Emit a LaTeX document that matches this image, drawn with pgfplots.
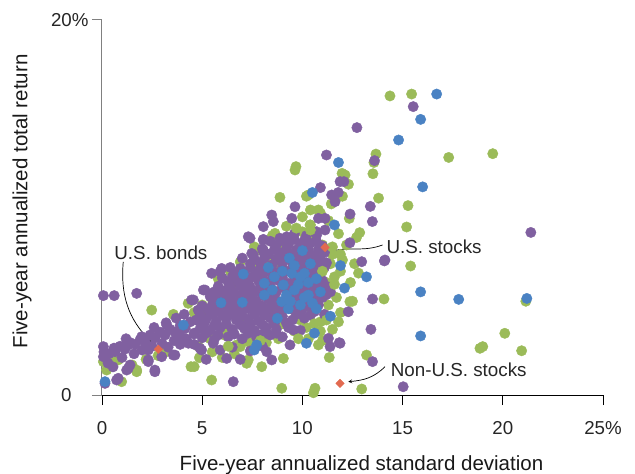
\documentclass[border=0pt]{standalone}
\usepackage{fontspec}
\setmainfont{Liberation Sans}
\usepackage{pgfplots}
\pgfplotsset{compat=1.18}
\definecolor{cgreen}{RGB}{155,187,89}
\definecolor{cpurple}{RGB}{128,96,160}
\definecolor{cblue}{RGB}{74,130,195}
\definecolor{corange}{RGB}{226,106,80}
\definecolor{caxis}{RGB}{128,128,128}
\begin{document}
\begin{tikzpicture}
\begin{axis}[
  name=main,
  scale only axis, width=501pt, height=375pt,
  xmin=0, xmax=25, ymin=0, ymax=20,
  axis x line=bottom, axis y line=left,
  x axis line style={-, black, line width=0.8pt},
  y axis line style={-, caxis, line width=1pt},
  xtick={0,5,10,15,20,25}, xticklabels={0,5,10,15,20,25\%},
  ytick={20}, yticklabels={20\%},
  extra y ticks={0}, extra y tick labels={0},
  extra y tick style={tick style={black, line width=0.8pt}, yticklabel style={xshift=-17pt}},
  tick align=outside, major tick length=10pt,
  xtick style={black, line width=0.8pt},
  ytick style={caxis, line width=1pt},
  xticklabel style={yshift=-13pt},
  clip=false,
  /pgf/number format/assume math mode=true,
  tick label style={font=\fontsize{18.7}{22}\selectfont, text=black!85},
  xlabel={Five-year annualized standard deviation},
  ylabel={Five-year annualized total return},
  label style={font=\fontsize{20.5}{24}\selectfont, text=black!90},
  xlabel style={at={(axis description cs:0.5,0)}, anchor=center, yshift=-70pt, xshift=9pt},
  ylabel style={at={(axis description cs:0,0.5)}, anchor=center, yshift=80pt, xshift=6pt},
]
% green
\addplot[only marks, mark=*, mark size=5.2pt, color=cgreen] coordinates {
(14.37,15.95)(15.45,16.05)(13.67,12.85)(13.57,12.4)(13.52,11.8)(17.3,12.67)(19.5,12.87)(11.98,11.82)
(13.8,10.5)(15.27,10.1)(15.2,8.96)(12.86,8.66)(10.2,10.6)(10.4,9.87)(10.4,9.07)(12.3,11.24)(12.0,10.6)
(12.34,9.42)(11.44,10.19)(15.4,6.88)(14.07,5.12)(20.1,3.29)(19.0,2.58)(18.86,2.49)(20.94,2.36)(13.2,2.13)
(11.34,2.0)(12.96,0.32)(10.63,0.36)(10.55,0.12)(12.37,4.98)(2.48,4.53)(3.56,4.3)(4.86,1.99)(4.6,1.51)
(4.44,1.51)(5.47,0.8)(7.22,1.69)(7.3,1.87)(7.97,1.51)(8.97,0.36)(0.98,0.71)(1.73,1.24)(0.07,1.78)(0.56,2.04)
(6.55,4.44)(6.22,3.47)(6.9,2.58)(9.05,1.95)(0.81,1.87)(0.23,1.33)(1.73,1.33)(4.3,4.89)(4.97,4.36)(10.8,2.67)
(7.3,2.84)(6.72,2.67)(8.88,10.54)(10.3,10.67)(9.63,12.0)(10.38,9.07)(8.63,8.62)(7.88,7.73)(10.8,9.87)
(9.68,12.18)(12.13,11.73)(11.8,10.58)(21.15,5.0)
(5.5,2.3)(6.0,2.0)(6.6,2.2)(7.5,2.6)(8.2,2.8)(8.8,3.0)(9.6,3.4)(10.2,3.6)(10.9,3.9)(11.5,3.5)(11.0,2.9)
(10.5,4.5)(11.3,4.8)(11.7,5.2)(11.9,4.4)(11.2,6.0)(11.6,6.3)(12.0,7.2)(11.5,7.5)(11.0,8.0)(10.6,8.4)
(10.0,8.7)(9.4,8.3)(8.8,7.9)(8.3,7.2)(7.8,6.8)(7.2,6.3)(6.6,5.9)(6.0,5.4)(5.5,5.1)(5.0,4.8)(4.6,4.4)
(3.2,2.3)(2.8,2.1)(2.2,1.9)(1.5,1.6)(6.5,4.6)(7.0,3.9)(7.6,3.4)(8.4,4.4)(9.0,3.8)(9.9,4.0)(10.3,3.0)
(12.4,6.0)(12.6,7.0)(12.2,8.0)(11.8,8.6)(12.5,5.0)(10.0,9.5)(9.2,9.0)(8.5,8.5)(7.6,7.9)(5.8,6.2)(6.4,6.6)
(6.9,7.1)(7.3,5.2)(8.9,6.8)(9.8,7.4)(10.7,7.0)(11.4,7.0)(11.9,6.6)(12.8,6.5)(12.7,8.4)(11.3,9.3)(10.9,9.7)
(6.1,3.2)(5.4,3.0)(4.8,2.6)
};
% purple
\addplot[only marks, mark=*, mark size=5.2pt, color=cpurple] coordinates {
(15.53,15.38)(12.72,14.26)(11.2,12.8)(13.6,12.5)(10.9,11.06)(12.07,11.38)(11.88,11.38)(11.46,10.67)
(11.79,10.8)(11.63,10.31)(13.39,10.06)(12.38,9.65)(13.49,9.25)(10.8,9.42)(11.13,9.42)(11.13,8.8)(10.71,8.53)
(21.4,8.67)(14.09,7.15)(13.5,5.12)(13.42,3.5)(13.5,1.78)(15.03,0.44)(12.96,7.11)(12.37,8.12)(12.29,4.44)
(11.84,2.79)(11.38,2.58)(11.3,3.02)(11.88,2.76)(0.07,5.3)(0.61,5.3)(1.73,5.42)(2.64,1.24)(0.73,0.8)
(6.55,0.71)(0.07,2.58)(0.07,2.04)(0.15,0.62)(1.4,1.6)(1.23,1.33)(2.31,1.87)(3.56,2.13)(4.89,2.49)(5.55,2.76)
(6.22,1.95)(8.22,2.31)(8.47,1.87)(9.38,2.67)(9.55,3.47)(7.55,7.47)(8.05,7.73)(8.05,8.27)(7.3,8.44)(5.47,6.49)
(5.89,6.58)(5.06,5.6)(4.56,5.07)(0.65,2.31)(1.31,2.67)(1.98,3.11)(2.31,2.4)(3.23,3.73)(3.64,2.13)(2.98,2.04)
(2.31,1.78)(2.64,1.33)(1.31,1.42)(0.81,0.89)(4.97,2.4)(4.31,2.76)(3.89,3.2)(4.47,5.07)(4.8,4.53)(5.14,5.6)
(9.63,10.04)(9.47,9.42)(8.47,9.6)(8.55,9.25)(8.05,8.98)(7.39,8.36)(8.05,8.3)(8.88,8.36)(9.22,8.44)(7.47,7.55)
(8.05,7.65)(10.71,8.71)(5.97,6.75)(14.12,7.2)
(0.1,2.3)(0.35,2.2)(0.6,2.5)(0.9,2.6)(1.15,2.45)(1.4,2.8)(1.65,2.7)(1.9,2.95)(2.15,2.85)(2.4,3.2)(2.65,3.05)
(2.9,3.35)(3.15,3.2)(3.4,3.5)(3.65,3.35)(3.9,3.7)(4.15,3.55)(4.4,3.9)(0.3,1.7)(0.55,1.5)(1.0,2.0)(1.6,2.2)
(2.0,2.4)(2.5,2.6)(3.0,2.75)(3.3,2.55)(3.6,2.9)(3.9,2.7)(4.2,3.0)(4.6,3.3)(3.2,3.85)(3.7,4.1)(4.1,4.3)
(2.6,3.6)(1.2,3.0)(4.6,2.7)
(5.0,3.05)(5.6,2.95)(6.3,3.1)(7.0,3.0)(7.7,3.1)(8.4,3.2)(9.0,3.1)
(4.9,3.55)(5.4,3.45)(5.9,3.6)(6.5,3.5)(7.1,3.55)(7.6,3.45)(8.2,3.6)(8.7,3.5)(9.3,3.6)(9.9,3.45)
(4.7,4.0)(5.2,4.05)(5.7,3.95)(6.2,4.1)(6.7,4.0)(7.3,4.05)(7.8,3.95)(8.4,4.1)(9.0,4.2)(9.5,4.0)(10.1,4.1)
(5.3,4.55)(5.8,4.5)(6.3,4.6)(6.8,4.5)(7.3,4.6)(7.8,4.5)(8.3,4.6)(8.9,4.5)(9.4,4.6)(10.0,4.55)(10.6,4.45)(11.1,4.3)
(5.7,5.0)(6.2,5.05)(6.7,4.95)(7.2,5.05)(7.7,5.0)(8.3,5.1)(8.8,5.0)(9.3,5.05)(9.9,5.0)(10.5,5.1)(11.0,5.2)
(5.6,5.5)(6.1,5.55)(6.6,5.45)(7.1,5.55)(7.6,5.5)(8.1,5.6)(8.7,5.5)(9.2,5.6)(9.8,5.5)(10.4,5.55)(10.9,5.65)(11.4,5.5)
(6.3,6.0)(6.8,6.05)(7.3,5.95)(7.8,6.1)(8.3,6.0)(8.8,6.1)(9.3,5.95)(9.9,6.05)(10.5,6.0)(11.0,6.1)
(6.6,6.5)(7.1,6.55)(7.7,6.45)(8.2,6.6)(8.7,6.5)(9.2,6.6)(9.8,6.5)(10.4,6.55)(10.9,6.45)
(7.4,7.0)(7.9,7.05)(8.5,6.95)(9.0,7.05)(9.5,7.0)(10.1,7.1)(10.7,7.0)(11.2,7.05)
(8.3,7.5)(8.9,7.55)(9.5,7.5)(10.1,7.55)(10.6,7.45)(11.1,7.6)
(8.7,8.0)(9.3,8.05)(9.9,8.0)(10.4,8.1)(11.0,7.95)
(9.6,8.6)(10.2,8.5)
(5.9,2.4)(6.5,2.55)(7.4,2.35)(8.0,2.6)(6.9,1.9)(5.2,1.9)
(4.6,3.25)(5.2,3.3)(5.8,3.2)(6.6,3.25)(7.3,3.3)(8.0,3.25)(8.7,3.3)
(5.1,3.8)(5.6,3.7)(6.2,3.8)(6.9,3.75)(7.4,3.8)(8.0,3.75)(8.6,3.8)(9.2,3.85)
(4.9,4.25)(5.5,4.3)(6.0,4.25)(6.5,4.3)(7.0,4.25)(7.6,4.3)(8.1,4.25)(8.7,4.3)(9.7,4.3)(10.4,4.25)
(5.0,4.75)(5.5,4.8)(6.0,4.75)(6.5,4.8)(7.0,4.7)(7.5,4.8)(8.0,4.75)(8.6,4.8)(9.1,4.8)(9.7,4.75)(10.3,4.75)(10.8,4.8)
(5.4,5.25)(5.9,5.3)(6.4,5.25)(6.9,5.3)(7.4,5.25)(8.0,5.3)(8.5,5.25)(9.6,5.3)(10.2,5.25)(10.7,5.3)(11.2,5.35)
(5.8,5.8)(6.4,5.75)(6.9,5.8)(7.4,5.75)(7.9,5.8)(8.4,5.8)(9.0,5.75)(9.5,5.8)(10.1,5.75)(10.7,5.8)(11.2,5.8)
(6.0,6.25)(6.5,6.3)(7.0,6.25)(7.5,6.3)(8.0,6.25)(8.5,6.3)(9.0,6.25)(9.6,6.3)(10.2,6.25)(10.8,6.3)
(6.4,6.8)(6.9,6.75)(7.4,6.8)(7.9,6.75)(8.4,6.8)(9.0,6.8)(9.5,6.75)(10.0,6.8)(10.6,6.75)(11.1,6.8)
(7.0,7.3)(7.6,7.25)(8.1,7.3)(8.7,7.25)(9.2,7.3)(9.8,7.25)(10.4,7.3)(10.9,7.25)
(8.0,7.8)(8.6,7.75)(9.2,7.8)(9.7,7.75)(10.3,7.8)(10.8,7.75)
(8.4,8.2)(9.0,8.25)(9.6,8.3)(10.1,8.25)(10.7,8.2)
};
% green drawn over part of the cluster
\addplot[only marks, mark=*, mark size=5.2pt, color=cgreen] coordinates {
(11.2,4.0)(11.6,5.9)(11.0,6.6)(11.5,7.9)(10.6,3.8)(11.8,3.9)(9.7,8.9)(10.4,8.8)(11.9,7.5)
(6.3,2.6)(7.9,2.9)(9.8,3.0)(10.9,3.4)
};
% blue
\addplot[only marks, mark=*, mark size=5.2pt, color=cblue] coordinates {
(0.15,0.71)(4.06,3.73)(5.94,4.92)(7.0,4.94)(7.05,6.45)(7.72,2.67)(7.6,2.4)(8.1,5.96)(8.1,5.33)(8.75,4.09)
(9.05,5.87)(8.97,4.98)(9.2,5.33)(9.35,7.3)(9.47,6.49)(9.6,5.6)(10.0,7.7)(10.1,6.49)(10.3,5.33)(10.7,6.2)
(10.2,2.76)(10.6,3.3)(10.5,10.8)(11.4,4.2)(11.6,9.07)(11.9,6.9)(12.1,5.7)(11.8,12.4)(13.2,6.3)(14.8,13.6)
(15.9,14.7)(16.7,16.05)(16.0,11.1)(15.9,5.5)(17.8,5.1)(21.2,5.15)(15.9,3.15)(9.8,5.9)(10.3,6.0)(9.9,4.8)
(10.5,4.9)(8.6,6.3)(9.6,6.9)(10.9,5.5)(8.5,5.6)(9.3,4.6)
(9.0,6.6)(10.1,5.2)(9.4,5.0)(10.7,4.6)(8.3,6.8)(9.9,6.3)(10.4,7.0)
};
% indexes
\addplot[only marks, mark=square*, mark size=3pt, color=corange, mark options={rotate=45}] coordinates {
(2.81,2.44)(11.13,7.87)(11.88,0.62)
};
\node[font=\fontsize{18.8}{22}\selectfont, text=black!85] at (axis cs:2.94,7.57) {U.S. bonds};
\node[font=\fontsize{18.8}{22}\selectfont, text=black!85] at (axis cs:16.57,7.91) {U.S. stocks};
\node[font=\fontsize{18.8}{22}\selectfont, text=black!85] at (axis cs:17.8,1.37) {Non-U.S. stocks};
\draw[-stealth, line width=0.7pt] (axis cs:1.06,7.1) to[out=-95,in=135] (axis cs:2.5,2.78);
\draw[-stealth, line width=0.7pt] (axis cs:14.0,8.0) to[out=200,in=10] (axis cs:11.55,7.7);
\draw[-stealth, line width=0.7pt] (axis cs:14.12,1.51) to[out=225,in=5] (axis cs:12.29,0.71);
\end{axis}
\pgfresetboundingbox
\path[use as bounding box] ([shift={(-102pt,-79pt)}]main.south west) rectangle ([shift={(32pt,20pt)}]main.north east);
\end{tikzpicture}
\end{document}
